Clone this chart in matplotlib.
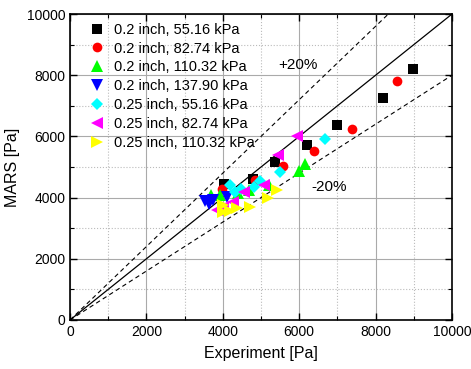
import numpy as np
import matplotlib.pyplot as plt
from matplotlib.ticker import MultipleLocator

plt.rcParams['font.family'] = ['Liberation Sans', 'DejaVu Sans']

# experiment (x) vs MARS (y), Pa
blk_x = [4030, 4790, 5370, 6200, 6990, 8190, 8980]
blk_y = [4440, 4610, 5160, 5720, 6370, 7250, 8200]
red_x = [3980, 4850, 5580, 6390, 7380, 8560]
red_y = [4280, 4560, 5030, 5520, 6240, 7810]
grn_x = [3690, 3930, 4400, 4690, 5210, 5990, 6150]
grn_y = [4080, 4080, 4150, 4250, 4410, 4870, 5100]
blu_x = [3530, 3650, 3740, 4110]
blu_y = [3890, 3800, 3920, 4020]
cyn_x = [4190, 4320, 4480, 4820, 4970, 5500, 6680]
cyn_y = [4410, 4180, 4280, 4350, 4540, 4840, 5910]
mag_x = [3850, 4000, 4270, 4560, 5080, 5450, 5940]
mag_y = [3600, 3700, 3860, 4180, 4410, 5390, 6010]
yel_x = [4010, 4010, 4200, 4370, 4710, 5180, 5420]
yel_y = [3530, 3760, 3550, 3660, 3690, 3990, 4250]

series = [
    (blk_x, blk_y, 's', 'black', '0.2 inch, 55.16 kPa', 6.5),
    (red_x, red_y, 'o', 'red', '0.2 inch, 82.74 kPa', 7),
    (grn_x, grn_y, '^', '#00ff00', '0.2 inch, 110.32 kPa', 8.5),
    (blu_x, blu_y, 'v', 'blue', '0.2 inch, 137.90 kPa', 8.5),
    (cyn_x, cyn_y, 'D', 'cyan', '0.25 inch, 55.16 kPa', 6.5),
    (mag_x, mag_y, '<', 'magenta', '0.25 inch, 82.74 kPa', 8.5),
    (yel_x, yel_y, '>', 'yellow', '0.25 inch, 110.32 kPa', 8.5),
]

fig = plt.figure(figsize=(4.71, 3.69), dpi=100)
ax = fig.add_axes([0.1486, 0.1328, 0.8111, 0.8292])

line_x = np.array([0, 10000])
ax.plot(line_x, line_x, 'k-', linewidth=0.9, zorder=2)
ax.plot(line_x, 1.2 * line_x, 'k--', linewidth=0.8, dashes=(4, 3), zorder=2)
ax.plot(line_x, 0.8 * line_x, 'k--', linewidth=0.8, dashes=(4, 3), zorder=2)

for x, y, m, c, lab, ms in series:
    ax.plot(x, y, linestyle='none', marker=m, color=c, markersize=ms,
            markeredgewidth=0, label=lab, zorder=3)

ax.text(5450, 8330, '+20%', fontsize=11, va='center', ha='left')
ax.text(6330, 4350, '-20%', fontsize=11, va='center', ha='left')

ax.set_xlim(0, 10000)
ax.set_ylim(0, 10000)
ax.xaxis.set_major_locator(MultipleLocator(2000))
ax.yaxis.set_major_locator(MultipleLocator(2000))
ax.xaxis.set_minor_locator(MultipleLocator(1000))
ax.yaxis.set_minor_locator(MultipleLocator(1000))
ax.grid(True, which='major', color='#aaaaaa', linewidth=0.8)
ax.grid(True, which='minor', color='#bbbbbb', linestyle=':', linewidth=0.8)
ax.set_axisbelow(True)
ax.tick_params(which='both', direction='in', top=True, right=True, labelsize=10)
ax.tick_params(which='major', length=5, width=1)
ax.tick_params(which='minor', length=3, width=0.8)
for s in ax.spines.values():
    s.set_linewidth(1.2)

ax.set_xlabel('Experiment [Pa]', fontsize=11.5, labelpad=5)
ax.set_ylabel('MARS [Pa]', fontsize=11.5, labelpad=5)

ax.legend(loc='upper left', frameon=False, fontsize=10.5, handletextpad=0.5,
          borderaxespad=0.2, labelspacing=0.33, handlelength=1.4,
          bbox_to_anchor=(0.02, 1.0))

plt.savefig('out.png', dpi=100)
plt.close()
